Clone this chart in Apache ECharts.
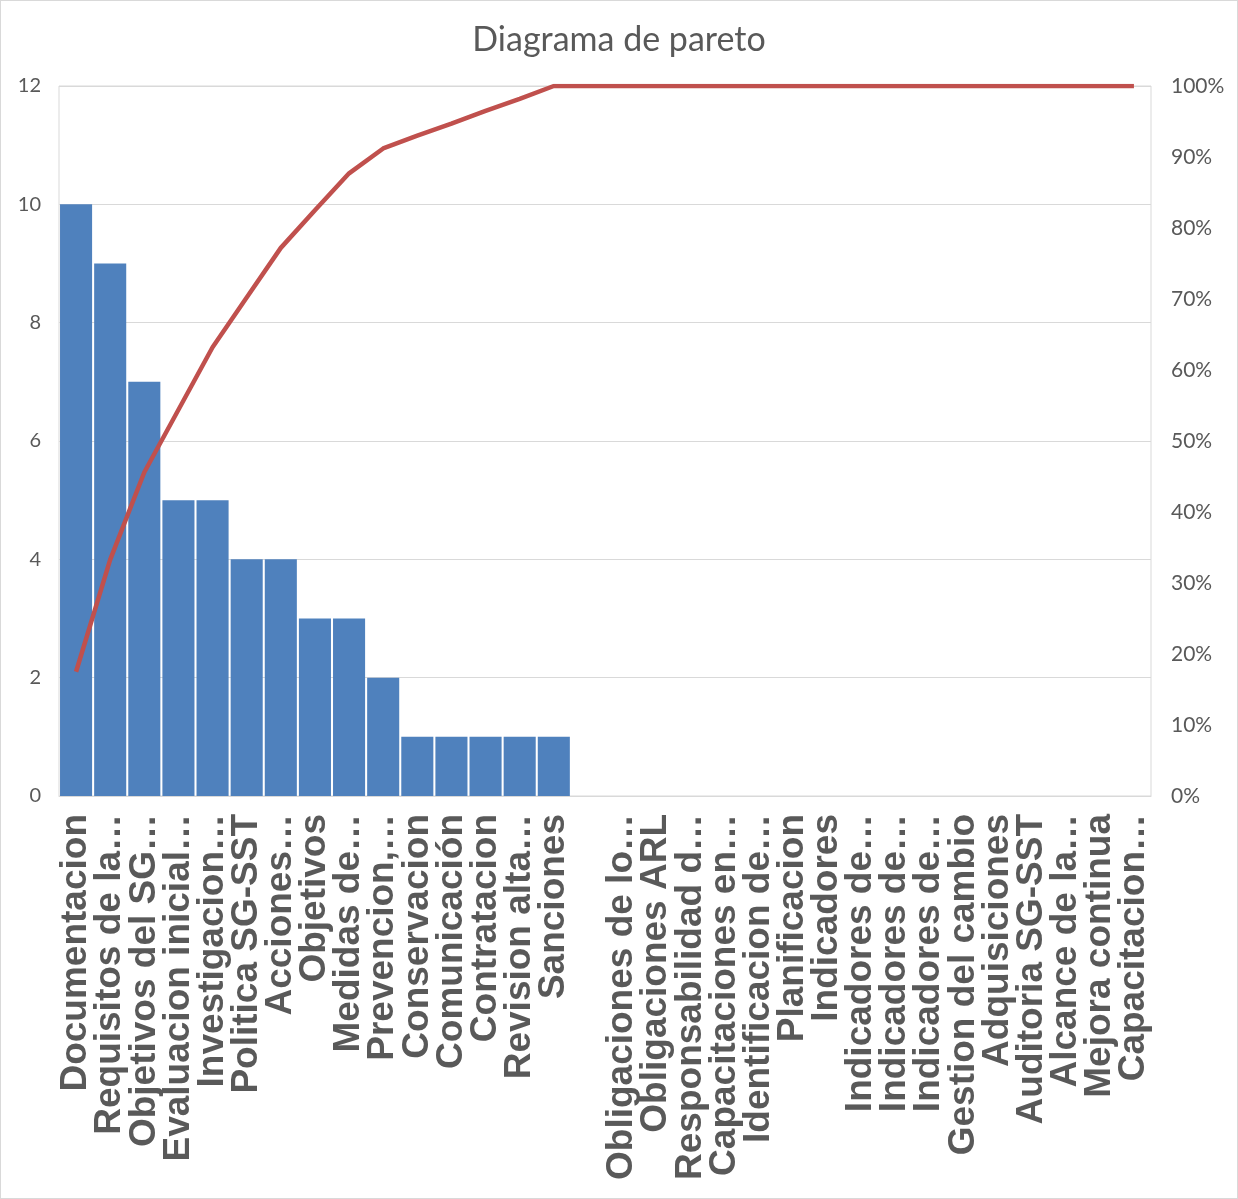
<!DOCTYPE html>
<html>
<head>
<meta charset="utf-8">
<script src="https://cdn.jsdelivr.net/npm/echarts@6/dist/echarts.min.js"></script>
<style>
  html, body { margin: 0; padding: 0; background: #fff; }
  #chart { width: 1238px; height: 1199px; box-sizing: border-box; border: 1px solid #d9d9d9; }
</style>
</head>
<body>
<div id="chart"></div>
<script>
// categories (Excel truncated labels kept as shown)
const categories = [
  'Documentacion', 'Requisitos de la…', 'Objetivos del SG…', 'Evaluacion inicial…',
  'Investigacion…', 'Politica SG-SST', 'Acciones…', 'Objetivos', 'Medidas de…',
  'Prevencion,…', 'Conservacion', 'Comunicación', 'Contratacion', 'Revision alta…',
  'Sanciones', '', 'Obligaciones de lo…', 'Obligaciones ARL', 'Responsabilidad d…',
  'Capacitaciones en…', 'Identificacion de…', 'Planificacion', 'Indicadores',
  'Indicadores de…', 'Indicadores de…', 'Indicadores de…', 'Gestion del cambio',
  'Adquisiciones', 'Auditoria SG-SST', 'Alcance de la…', 'Mejora continua', 'Capacitacion…'
];

// frequency per category
const counts = [10, 9, 7, 5, 5, 4, 4, 3, 3, 2, 1, 1, 1, 1, 1,
  0, 0, 0, 0, 0, 0, 0, 0, 0, 0, 0, 0, 0, 0, 0, 0, 0];

// cumulative percentage
const cumulative = [17.5, 33.3, 45.6, 54.4, 63.2, 70.2, 77.2, 82.5, 87.7, 91.2,
  93.0, 94.7, 96.5, 98.2, 100, 100, 100, 100, 100, 100, 100, 100, 100, 100,
  100, 100, 100, 100, 100, 100, 100, 100];

const chart = echarts.init(document.getElementById('chart'));

chart.setOption({
  animation: false,
  title: {
    text: 'Diagrama de pareto',
    left: 'center',
    top: 17,
    textStyle: { fontFamily: 'Lato', fontSize: 34, fontWeight: 'normal', color: '#595959' }
  },
  grid: {
    left: 58, right: 86, top: 85, bottom: 402,
    show: true, borderColor: '#d9d9d9', borderWidth: 1
  },
  xAxis: {
    type: 'category',
    data: categories,
    axisLine: { lineStyle: { color: '#d9d9d9' } },
    axisTick: { show: false },
    axisLabel: {
      interval: 0,
      rotate: 90,
      margin: 18,
      fontFamily: 'Liberation Sans',
      fontWeight: 'bold',
      fontSize: 37,
      color: '#595959'
    }
  },
  yAxis: [
    {
      type: 'value',
      min: 0, max: 12, interval: 2,
      axisLine: { show: false },
      axisTick: { show: false },
      splitLine: { lineStyle: { color: '#d9d9d9' } },
      axisLabel: { margin: 18, fontFamily: 'Lato', fontSize: 20, color: '#595959' }
    },
    {
      type: 'value',
      min: 0, max: 100, interval: 10,
      axisLine: { show: false },
      axisTick: { show: false },
      splitLine: { show: false },
      axisLabel: {
        margin: 20, fontFamily: 'Lato', fontSize: 21, color: '#595959',
        formatter: '{value}%'
      }
    }
  ],
  series: [
    {
      type: 'bar',
      data: counts,
      barCategoryGap: '6%',
      itemStyle: { color: '#4F81BD' }
    },
    {
      type: 'line',
      yAxisIndex: 1,
      data: cumulative,
      symbol: 'none',
      lineStyle: { color: '#C0504D', width: 4.5 }
    }
  ]
});
</script>
</body>
</html>
